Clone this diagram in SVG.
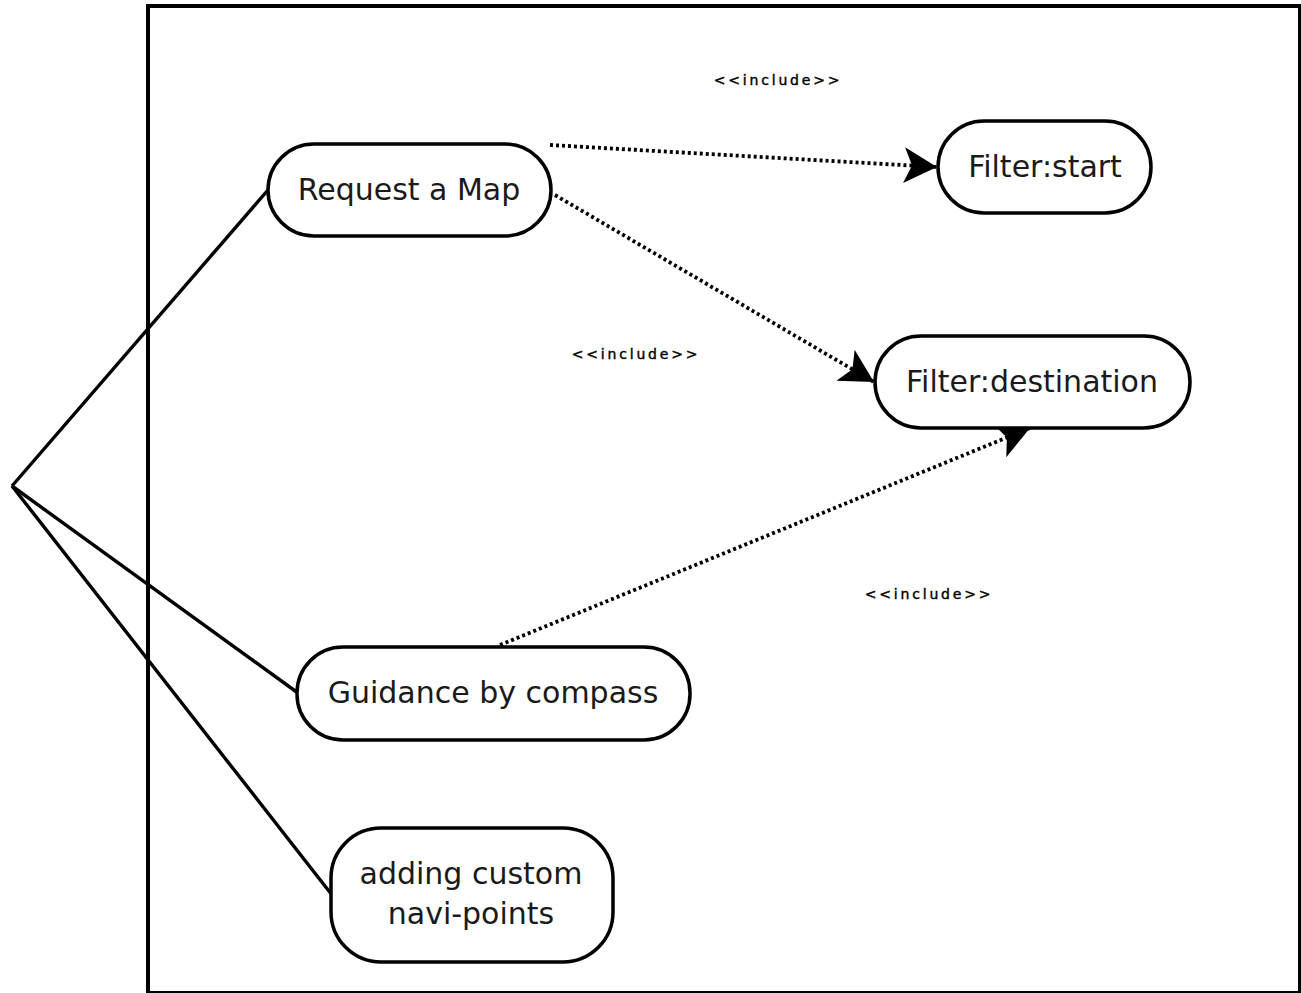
<svg xmlns="http://www.w3.org/2000/svg" width="1301" height="993" viewBox="0 0 1301 993">
<style>
.node{fill:#fff;stroke:#000;stroke-width:3.5}
.lbl{font-family:"DejaVu Sans",sans-serif;font-size:30px;fill:#1a1a1a;text-anchor:middle}
.inc{font-family:"DejaVu Sans",sans-serif;font-size:14px;fill:#000;text-anchor:middle;stroke:#000;stroke-width:0.4}
.assoc{stroke:#000;stroke-width:3.4;fill:none}
.dep{stroke:#000;stroke-width:3.8;fill:none;stroke-dasharray:3 3}
</style>
<defs>
<marker id="ah" markerUnits="userSpaceOnUse" orient="auto" refX="0" refY="0" markerWidth="40" markerHeight="40" viewBox="-34 -20 36 40" overflow="visible">
<path d="M0,0 L-33,-18 L-25,0 L-33,18 Z" fill="#000"/>
</marker>
</defs>
<rect width="1301" height="993" fill="#fff"/>
<rect id="boundary" x="148" y="6" width="1152" height="987" fill="none" stroke="#000" stroke-width="4"/>
<g id="connectors">
<line class="assoc" x1="12" y1="486" x2="268" y2="190"/>
<line class="assoc" x1="12" y1="486" x2="298" y2="693"/>
<line class="assoc" x1="12" y1="486" x2="332" y2="895"/>
<line class="dep" x1="550" y1="145" x2="937" y2="167" marker-end="url(#ah)"/>
<line class="dep" x1="555" y1="195" x2="874" y2="382" marker-end="url(#ah)"/>
<line class="dep" x1="500" y1="645" x2="1030" y2="428" marker-end="url(#ah)"/>
<text class="inc" x="778" y="85" letter-spacing="2.8">&lt;&lt;include&gt;&gt;</text>
<text class="inc" x="636" y="359" letter-spacing="2.8">&lt;&lt;include&gt;&gt;</text>
<text class="inc" x="929" y="599" letter-spacing="2.8">&lt;&lt;include&gt;&gt;</text>
</g>
<g id="request-map">
<rect class="node" x="268" y="144" width="283" height="92" rx="46"/>
<text class="lbl" x="409" y="200">Request a Map</text>
</g>
<g id="filter-start">
<rect class="node" x="938" y="121" width="213" height="92" rx="46"/>
<text class="lbl" x="1045" y="177">Filter:start</text>
</g>
<g id="filter-destination">
<rect class="node" x="875" y="336" width="315" height="92" rx="46"/>
<text class="lbl" x="1032" y="392">Filter:destination</text>
</g>
<g id="guidance">
<rect class="node" x="297" y="647" width="393" height="93" rx="46"/>
<text class="lbl" x="493" y="703">Guidance by compass</text>
</g>
<g id="custom-points">
<rect class="node" x="331" y="828" width="282" height="134" rx="50"/>
<text class="lbl" x="471" y="884">adding custom</text>
<text class="lbl" x="471" y="924">navi-points</text>
</g>
</svg>
